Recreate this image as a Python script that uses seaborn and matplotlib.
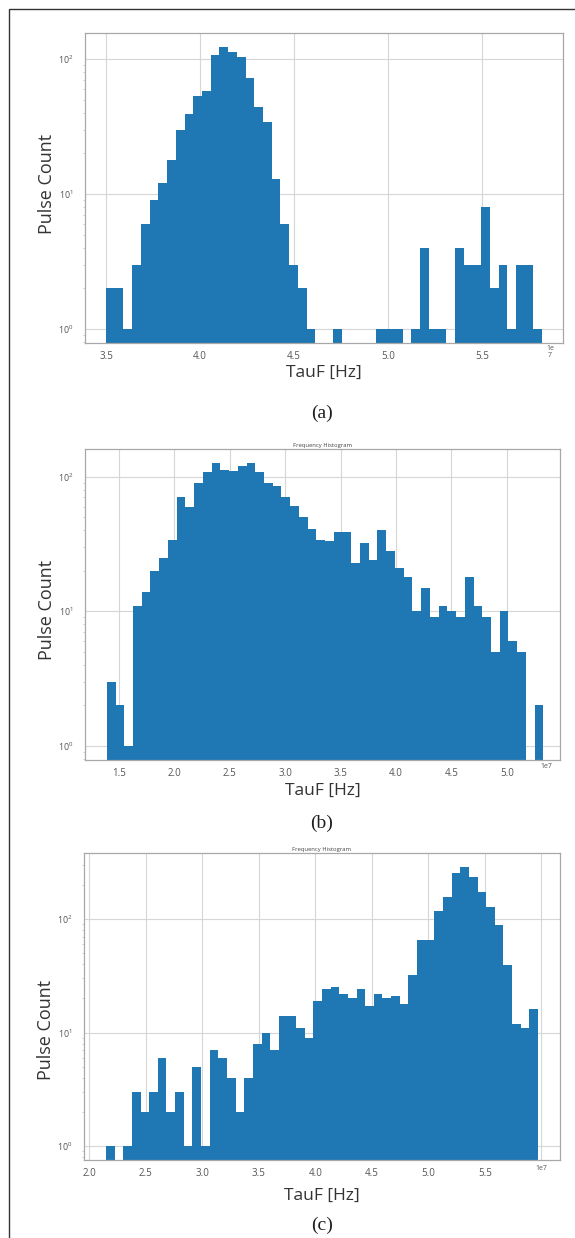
import numpy as np
import pandas as pd
import seaborn as sns
import matplotlib.pyplot as plt
from matplotlib.patches import Rectangle

# counts per bin
counts_a = [2, 2, 1, 3, 6, 9, 12, 18, 30, 39,
            53, 58, 108, 123, 113, 104, 73, 44, 34, 13,
            6, 3, 2, 1, 0, 0, 1, 0, 0, 0,
            0, 1, 1, 1, 0, 1, 4, 1, 1, 0,
            4, 3, 3, 8, 2, 3, 1, 3, 3, 1]
counts_b = [3, 2, 1, 11, 14, 20, 25, 34, 71, 60,
            89, 108, 126, 112, 110, 119, 126, 108, 89, 85,
            71, 61, 50, 41, 34, 33, 39, 39, 23, 32,
            24, 40, 28, 21, 18, 10, 15, 9, 11, 10,
            9, 18, 11, 9, 5, 10, 6, 5, 0, 2]
counts_c = [1, 0, 1, 3, 2, 3, 6, 2, 3, 1,
            5, 1, 7, 6, 4, 2, 4, 8, 10, 7,
            14, 14, 11, 9, 19, 24, 25, 22, 20, 24,
            17, 22, 20, 21, 18, 32, 66, 66, 119, 156,
            255, 288, 235, 173, 127, 89, 39, 12, 11, 16]

# bin ranges and visible x ranges, in Hz
range_a = (3.50e7, 5.82e7)
range_b = (1.39e7, 5.33e7)
range_c = (2.15e7, 5.97e7)
xlim_a = (3.388e7, 5.931e7)
xlim_b = (1.193e7, 5.480e7)
xlim_c = (1.956e7, 6.164e7)

# tick positions (x 1e7) and which of them carry a label
ticks_a = [3.5, 4.0, 4.5, 5.0, 5.5]
ticks_b = [1.5, 2.0, 2.5, 3.0, 3.5, 4.0, 4.5, 5.0]
ticks_c = [2.0, 2.5, 3.0, 3.5, 4.0, 4.5, 5.0, 5.5, 6.0]
hidden_c = [6.0]

captions = ["(a)", "(b)", "(c)"]
offsets = ["1e\n7", "1e7", "1e7"]
titles = ["", "Frequency Histogram", "Frequency Histogram"]

W, H = 575, 1238


def px_rect(left, top, right, bottom):
    return [left / W, 1 - bottom / H, (right - left) / W, (bottom - top) / H]


def draw_hist(fig, rect, counts, binrange, xlim, ticks, hidden, title, xlab_y, ylab_y):
    ax = fig.add_axes(rect)
    nb = len(counts)
    edges = np.linspace(binrange[0], binrange[1], nb + 1)
    df = pd.DataFrame({"TauF": (edges[:-1] + edges[1:]) / 2, "count": counts})
    sns.histplot(data=df, x="TauF", weights="count", bins=nb, binrange=binrange,
                 color="#1f77b4", alpha=1, linewidth=0, ax=ax)
    ax.set_yscale("log")
    top = np.log10(max(counts))
    ax.set_ylim(10 ** (-0.05 * top), 10 ** (1.05 * top))
    ax.set_xlim(*xlim)
    ax.set_xticks([t * 1e7 for t in ticks],
                  ["" if t in hidden else f"{t:.1f}" for t in ticks])
    ax.grid(True, which="major", color="#d6d6d6", linewidth=0.8)
    ax.grid(False, which="minor")
    for s in ax.spines.values():
        s.set_color("#a8a8a8")
        s.set_linewidth(0.9)
    ax.tick_params(axis="x", labelsize=7, labelcolor="#555555", pad=2)
    ax.tick_params(axis="y", which="major", labelsize=6.3, labelcolor="#555555", pad=5)
    ax.tick_params(axis="y", which="minor", left=True, length=1.5, width=0.5, color="#bbbbbb")
    if title:
        ax.set_title(title, fontsize=4.2, color="#444444", pad=1.5)
    ax.set_xlabel("TauF [Hz]", fontsize=12.5, color="#333333", va="center")
    ax.set_ylabel("Pulse Count", fontsize=13, color="#333333", va="center")
    ax.xaxis.set_label_coords(0.5, xlab_y)
    ax.yaxis.set_label_coords(-0.079, ylab_y)
    return ax


sns.set_style("whitegrid")
plt.rcParams["font.family"] = ["Open Sans", "DejaVu Sans"]
plt.rcParams["mathtext.fontset"] = "dejavusans"

fig = plt.figure(figsize=(W / 100, H / 100), dpi=100)
fig.patch.set_facecolor("white")

# outer frame of the figure page
fig.patches.append(Rectangle((9 / W, -0.05), 1.1, 1 - 9 / H + 0.05,
                             transform=fig.transFigure, fill=False,
                             edgecolor="#333333", linewidth=1.0))

draw_hist(fig, px_rect(85, 33, 563, 343), counts_a, range_a, xlim_a, ticks_a, [],
          titles[0], -0.095, 0.513)
draw_hist(fig, px_rect(85, 449, 560, 760), counts_b, range_b, xlim_b, ticks_b, [],
          titles[1], -0.099, 0.482)
draw_hist(fig, px_rect(84, 853, 560, 1160), counts_c, range_c, xlim_c, ticks_c, hidden_c,
          titles[2], -0.117, 0.423)

# axis multipliers, drawn at tick-label height as in the source figure
for off, (x, y) in zip(offsets, [(550, 352), (546, 767), (541, 1168)]):
    fig.text(x / W, 1 - y / H, off, ha="center", va="center", fontsize=5,
             color="#555555", linespacing=1.1)

for cap, y in zip(captions, [413, 823, 1225]):
    fig.text(322 / W, 1 - y / H, cap, ha="center", va="center", fontsize=14,
             family="Liberation Serif", color="#1e1e1e")

fig.savefig("out.png", dpi=100)
